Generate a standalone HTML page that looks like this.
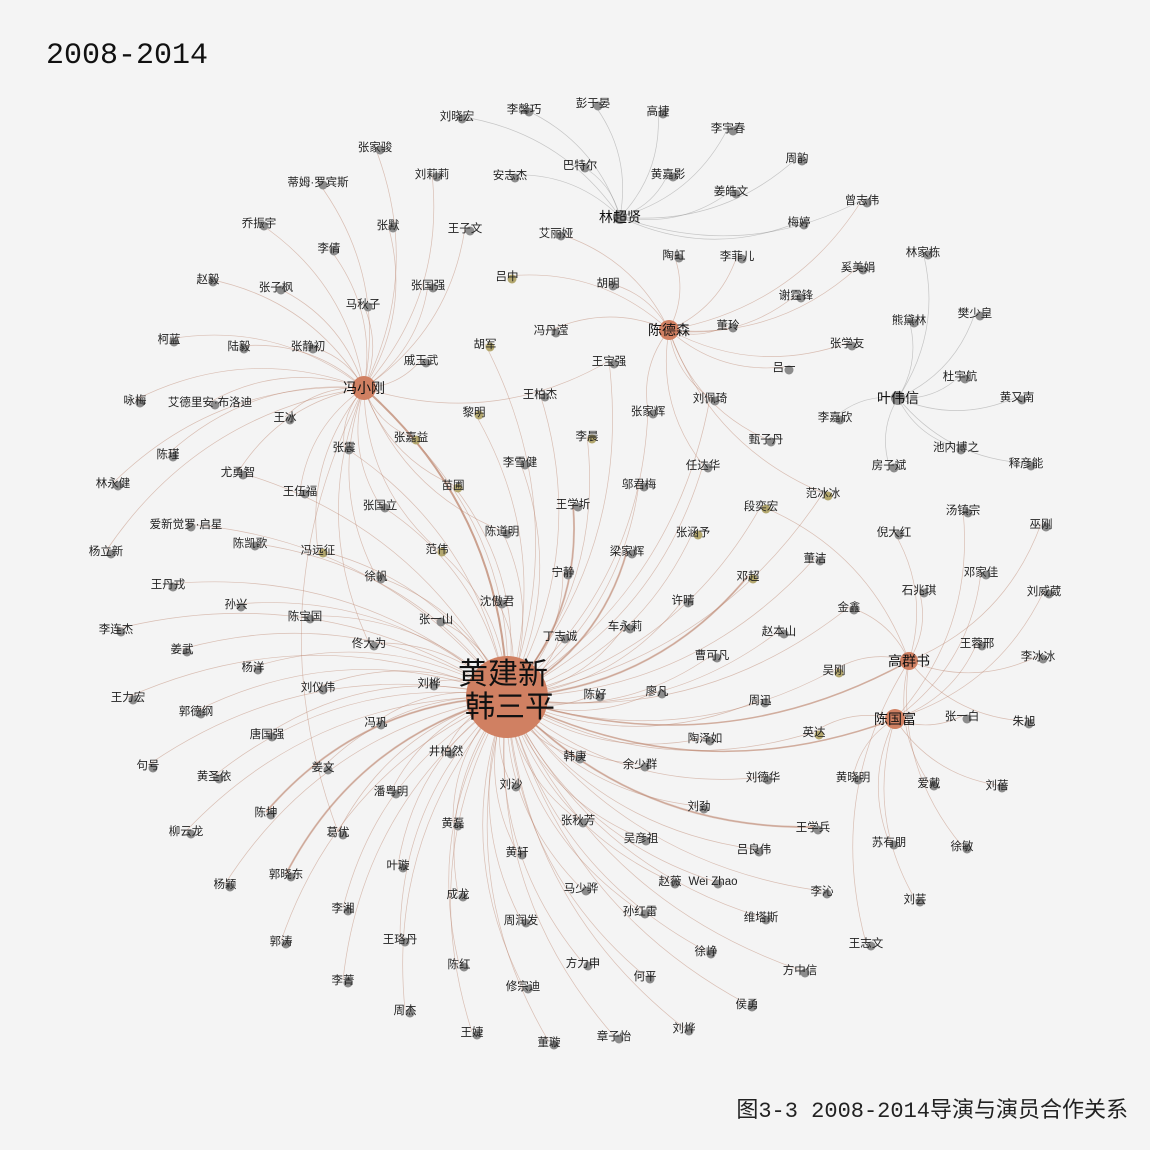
<!DOCTYPE html>
<html><head><meta charset="utf-8">
<style>
html,body{margin:0;padding:0;background:#f4f4f4;}
#wrap{position:relative;width:1150px;height:1150px;background:#f4f4f4;overflow:hidden;font-family:"Liberation Sans","Noto Sans CJK SC",sans-serif;}
#title{position:absolute;left:46px;top:39px;font-size:30px;color:#111;font-family:"Liberation Mono","Noto Sans CJK SC",monospace;}
#caption{position:absolute;right:22px;top:1092px;font-size:22px;color:#222;font-family:"Liberation Mono","Noto Sans CJK SC",monospace;}
svg text{font-family:"Liberation Sans","Noto Sans CJK SC",sans-serif;}
</style></head>
<body>
<div id="wrap">
<div id="title">2008-2014</div>
<svg id="net" width="1150" height="1150" style="position:absolute;left:0;top:0"></svg>
<div id="caption">图3-3 2008-2014导演与演员合作关系</div>
</div>
<script>
const hubNames=["黄建新\n韩三平","冯小刚","陈德森","高群书","陈国富","叶伟信","林超贤"];
const hubX=[507,364,669,909,895,898,620];
const hubY=[697,388,330,661,719,398,217];
const hubR=[41,12,10,9,10,7,7];
const hubColor=["#d08062","#d08062","#d08062","#d08062","#d08062","#8c8c8c","#8c8c8c"];
const actors=[
["刘晓宏",457,116,[6]],["李馨巧",524,109,[6]],["彭于晏",593,103,[6]],["高捷",658,111,[6]],["李宇春",728,128,[6]],["周韵",797,158,[6]],["曾志伟",862,200,[6,2]],["梅婷",799,222,[6]],["巴特尔",580,165,[6]],["黄嘉影",668,174,[6]],["姜皓文",731,191,[6]],["安志杰",510,175,[6]],["艾丽娅",556,233,[2]],["陶虹",674,255,[2]],["李菲儿",737,256,[2]],["奚美娟",858,267,[2]],["林家栋",923,252,[5]],["胡明",608,283,[2]],["谢霆锋",796,295,[2]],["熊黛林",909,320,[5]],["樊少皇",975,313,[5]],["董玲",728,325,[2]],["张学友",847,343,[2]],["吕一",784,367,[2]],["杜宇航",960,376,[5]],["黄又南",1017,397,[5]],["李嘉欣",835,417,[5]],["池内博之",956,447,[5]],["释彦能",1026,463,[5]],["房子斌",889,465,[5]],["甄子丹",766,439,[2]],["刘佩琦",710,398,[2,0]],["任达华",703,465,[2,0]],["范冰冰",823,493,[2,0]],["段奕宏",761,506,[3,0]],["倪大红",894,532,[3]],["汤镇宗",963,510,[4]],["巫刚",1041,524,[3]],["邓家佳",981,572,[4]],["石兆琪",919,590,[3]],["刘威葳",1044,591,[4]],["董洁",815,558,[0]],["金鑫",849,607,[3,0]],["赵本山",779,631,[0]],["王蓉邢",977,643,[4]],["李冰冰",1038,656,[3]],["吴刚",834,670,[3,0]],["张一白",962,716,[4]],["朱旭",1024,721,[3]],["英达",814,732,[4,0]],["黄晓明",853,777,[4]],["爱戴",929,783,[3]],["刘蓓",997,785,[4]],["王学兵",813,827,[0,0]],["苏有朋",889,842,[4]],["徐敏",962,846,[3]],["刘芸",915,899,[4]],["王志文",866,943,[3]],["李沁",822,891,[0]],["方中信",800,970,[0]],["维塔斯",761,917,[0]],["侯勇",747,1004,[0]],["吕良伟",754,849,[0]],["刘德华",763,777,[0]],["周迅",760,700,[0]],["陶泽如",705,738,[0]],["刘劲",699,806,[0]],["余少群",640,764,[0]],["廖凡",657,691,[0]],["曹可凡",712,655,[0]],["车永莉",625,626,[0]],["许晴",683,600,[0]],["邓超",748,576,[0,0]],["梁家辉",627,551,[0,0]],["张涵予",693,532,[0]],["宁静",563,572,[0]],["王学圻",573,504,[0,0]],["邬君梅",639,484,[0]],["李晨",587,436,[0]],["张家辉",648,411,[0,2]],["王宝强",609,361,[0,1]],["冯丹滢",551,330,[2]],["吕中",507,276,[2]],["王柏杰",540,394,[0]],["李雪健",520,462,[0]],["黎明",474,412,[0]],["胡军",485,344,[0]],["陈道明",502,531,[0,1]],["沈傲君",497,601,[0]],["丁志诚",560,636,[0]],["陈好",595,694,[0]],["韩庚",575,756,[0]],["刘沙",511,784,[0]],["张秋芳",578,820,[0]],["吴彦祖",641,838,[0]],["赵薇",670,881,[0]],["Wei Zhao",713,881,[0]],["孙红雷",640,911,[0]],["马少骅",581,888,[0]],["黄轩",517,852,[0]],["徐峥",706,951,[0]],["方力申",583,963,[0]],["何平",645,976,[0]],["周润发",521,920,[0]],["修宗迪",523,986,[0]],["章子怡",614,1036,[0]],["刘烨",684,1028,[0]],["董璇",549,1042,[0]],["王婕",472,1032,[0]],["周杰",405,1010,[0]],["陈红",459,964,[0]],["成龙",458,894,[0]],["王珞丹",400,939,[0]],["李菁",343,980,[0]],["郭涛",281,941,[0]],["李湘",343,908,[0]],["叶璇",398,865,[0]],["杨颖",225,884,[0]],["郭晓东",286,874,[0,0]],["黄磊",453,823,[0]],["葛优",338,832,[0,1]],["柳云龙",186,831,[0]],["陈坤",266,812,[0,0]],["潘粤明",391,791,[0]],["井柏然",446,751,[0]],["黄圣依",214,776,[0]],["姜文",323,767,[0]],["句号",148,765,[0]],["唐国强",267,734,[0]],["冯巩",376,722,[0]],["郭德纲",196,711,[0]],["王力宏",128,697,[0]],["刘仪伟",318,687,[0]],["刘桦",429,683,[0]],["杨洋",253,667,[0]],["姜武",182,649,[0]],["李连杰",116,629,[0]],["佟大为",369,643,[0,1]],["陈宝国",305,616,[0]],["孙兴",236,604,[0]],["王丹戎",168,584,[0]],["张一山",436,619,[0]],["徐帆",376,576,[0,1]],["范伟",437,549,[0,1]],["冯远征",318,550,[0,1]],["陈凯歌",250,543,[0]],["杨立新",106,551,[1]],["爱新觉罗·启星",186,524,[0]],["张国立",380,505,[0,1]],["苗圃",453,485,[0,1]],["王伍福",300,491,[1]],["林永健",113,483,[1]],["尤勇智",238,472,[1,0]],["陈瑾",168,454,[1]],["张震",344,447,[1,0]],["张嘉益",411,437,[1,0]],["王冰",285,417,[1]],["咏梅",135,400,[1]],["艾德里安·布洛迪",210,402,[1]],["柯蓝",169,339,[1]],["陆毅",239,346,[1]],["张静初",308,346,[1]],["戚玉武",421,360,[1]],["马秋子",363,304,[1]],["张国强",428,285,[1]],["张子枫",276,287,[1]],["赵毅",208,279,[1]],["乔振宇",259,223,[1]],["李倩",329,248,[1]],["张默",388,225,[1]],["王子文",465,228,[1]],["蒂姆·罗宾斯",318,182,[1]],["刘莉莉",432,174,[1]],["张家骏",375,147,[1]]
];
const olive=["吕中","胡军","黎明","李晨","范冰冰","段奕宏","吴刚","英达","苗圃","冯远征","范伟","张涵予","邓超","张嘉益"];
const NS="http://www.w3.org/2000/svg";
const svg=document.getElementById('net');
const gE=document.createElementNS(NS,'g');


svg.appendChild(gE);
const gN=document.createElementNS(NS,'g');


svg.appendChild(gN);
function edge(x1,y1,x2,y2,col,w){
  const mx=(x1+x2)/2,my=(y1+y2)/2,dx=x2-x1,dy=y2-y1;
  const cx=mx+dy*0.22,cy=my-dx*0.22;
  const p=document.createElementNS(NS,'path');
  p.setAttribute('d',`M${x1},${y1} Q${cx},${cy} ${x2},${y2}`);
  p.setAttribute('fill','none');p.setAttribute('stroke',col);p.setAttribute('stroke-width',w);
  
  
  gE.appendChild(p);
}
actors.forEach(a=>{
  const seen={};
  a[3].forEach(h=>{
    const orange=hubColor[h]!=="#8c8c8c";
    const w=seen[h]?2:0.7;seen[h]=1;
    edge(a[1],a[2],hubX[h],hubY[h],orange?"rgba(185,125,100,0.45)":"rgba(140,140,140,0.45)",w);
  });
});
edge(hubX[1],hubY[1],hubX[0],hubY[0],"rgba(185,125,100,0.7)",2);
edge(hubX[3],hubY[3],hubX[0],hubY[0],"rgba(185,125,100,0.6)",1.5);
edge(hubX[4],hubY[4],hubX[0],hubY[0],"rgba(185,125,100,0.6)",1.5);
actors.forEach(a=>{
  const g=document.createElementNS(NS,'g');
  
  
  const c=document.createElementNS(NS,'circle');
  c.setAttribute('cx',a[1]+5);c.setAttribute('cy',a[2]+3);c.setAttribute('r',4.5);
  c.setAttribute('fill',olive.includes(a[0])?"#b3a76e":"#8c8c8c");
  
  
  g.appendChild(c);
  const t=document.createElementNS(NS,'text');
  t.setAttribute('x',a[1]);t.setAttribute('y',a[2]+4);
  t.setAttribute('text-anchor','middle');t.setAttribute('font-size','11.5');t.setAttribute('fill','#222');
  t.textContent=a[0];
  
  
  g.appendChild(t);
  gN.appendChild(g);
});
hubNames.forEach((n,i)=>{
  const g=document.createElementNS(NS,'g');
  
  
  const c=document.createElementNS(NS,'circle');
  c.setAttribute('cx',hubX[i]);c.setAttribute('cy',hubY[i]);c.setAttribute('r',hubR[i]);
  c.setAttribute('fill',hubColor[i]);
  
  
  g.appendChild(c);
  const lines=n.split("\n");
  const fs=i===0?30:14;
  lines.forEach((l,k)=>{
    const t=document.createElementNS(NS,'text');
    t.setAttribute('x',hubX[i]+(i===0?(k===0?-4:3):0));
    t.setAttribute('y',i===0?hubY[i]-13+k*33:hubY[i]+5);
    t.setAttribute('text-anchor','middle');t.setAttribute('font-size',fs);t.setAttribute('fill','#111');
    t.textContent=l;
    
    
    g.appendChild(t);
  });
  gN.appendChild(g);
});
</script>
</body></html>
